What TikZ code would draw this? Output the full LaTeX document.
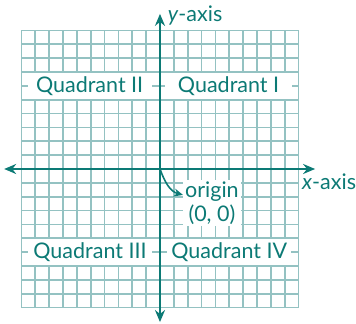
\documentclass[tikz,border=0pt]{standalone}
\usepackage{fontspec}
\setmainfont{Lato}
\usepackage{tikz}
\usetikzlibrary{arrows.meta}

\definecolor{tealdark}{RGB}{12,122,117}
\definecolor{teallight}{RGB}{148,194,194}

\begin{document}
\begin{tikzpicture}[
        x=13.85pt, y=13.85pt,
        gridline/.style={
            teallight,
            line width=1.7pt
        },
        axis/.style={
            {Stealth[length=12pt,width=10pt]}-{Stealth[length=12pt,width=10pt]},
            tealdark,
            line width=2.4pt
        },
        quad/.style={
            fill=white,
            text=tealdark,
            minimum width=124pt,
            minimum height=26pt,
            inner sep=0pt,
            font=\fontsize{21.5}{23}\selectfont
        },
        lbl/.style={
            text=tealdark,
            inner sep=0pt,
            font=\fontsize{21.5}{23}\selectfont
        },
        arrow/.style={
            -{Stealth[length=9pt,width=8pt]},
            tealdark,
            line width=1.6pt
        }
    ]
    \useasboundingbox (-11.55,-11.12) rectangle (14.15,12.2);

    % Grid
    \foreach \i in {-10,...,10} {
        \draw[gridline] (\i,-10) -- (\i,10);
        \draw[gridline] (-10,\i) -- (10,\i);
    }

    % Axes
    \coordinate (O) at (0,0);
    \coordinate (xleft) at (-11.25,0);
    \coordinate (xright) at (11.2,0);
    \coordinate (ytop) at (0,11.2);
    \coordinate (ybottom) at (0,-11.05);
    \draw[axis] (xleft) -- (xright);
    \draw[axis] (ybottom) -- (ytop);

    % Nodes
    \node[lbl, anchor=west] (ylabel) at (0.55,11.1) {\textit{y}-axis};
    \node[lbl, anchor=west] (xlabel) at (10.25,-0.95) {\textit{x}-axis};
    \node[quad] (q2) at (-5.08,6) {Quadrant II};
    \node[quad, minimum width=127pt] (q1) at (4.95,6) {Quadrant I};
    \node[quad] (q3) at (-5.05,-6) {Quadrant III};
    \node[quad] (q4) at (5.0,-6) {Quadrant IV};
    \node[lbl, fill=white, align=center, inner sep=2pt,
          font=\fontsize{21.5}{24}\selectfont] (orig) at (3.75,-2.45) {origin\\(0, 0)};

    % Arrows
    \draw[arrow] (O) to[out=-70, in=165] ([yshift=8pt]orig.west);

\end{tikzpicture}
\end{document}
